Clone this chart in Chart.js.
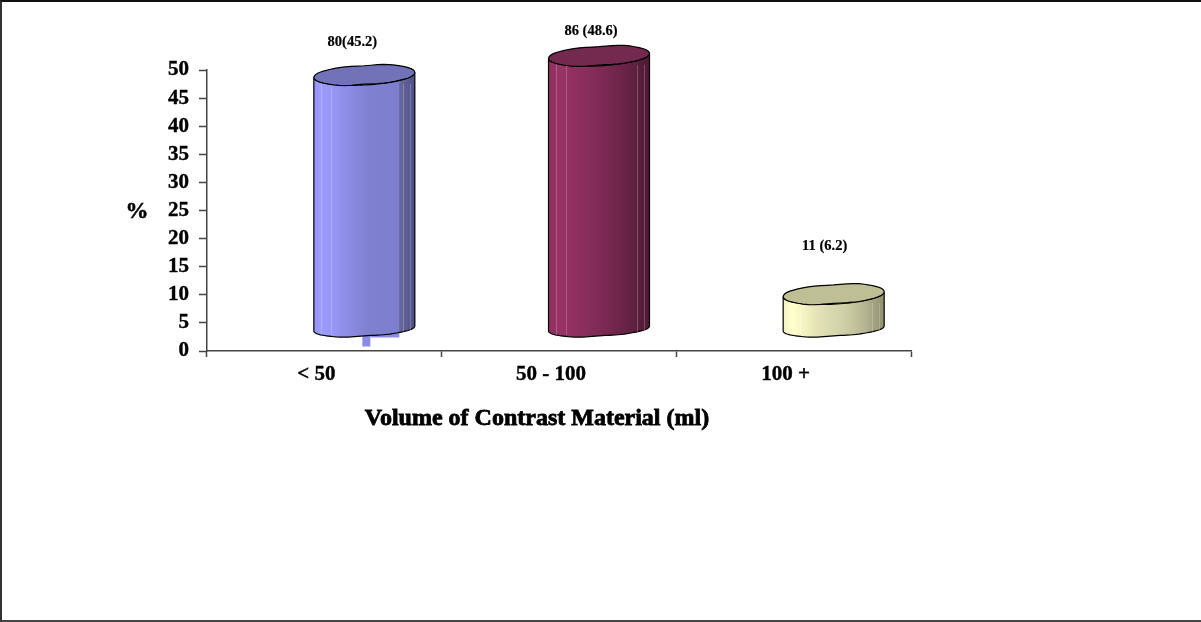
<!DOCTYPE html>
<html>
<head>
<meta charset="utf-8">
<title>Volume of Contrast Material</title>
<script src="https://cdn.jsdelivr.net/npm/chart.js@4/dist/chart.umd.js"></script>
<style>
  html, body { margin: 0; padding: 0; background: #fff; overflow: hidden; }
  #frame { position: relative; width: 1201px; height: 622px; box-sizing: border-box; border-top: 2px solid #111; border-left: 2px solid #333; border-bottom: 2px solid #444; }
  #frame canvas { position: absolute; left: -2px; top: -2px; }
</style>
</head>
<body>
<div id="frame"><canvas id="chart" width="1201" height="622"></canvas></div>
<script>
const categories = ['< 50', '50 - 100', '100 +'];
const percentages = [45.2, 48.6, 6.2];
const valueLabels = ['80(45.2)', '86 (48.6)', '11 (6.2)'];
const yTicks = [0, 5, 10, 15, 20, 25, 30, 35, 40, 45, 50];
const xTitle = 'Volume of Contrast Material (ml)';

const serif = '"Liberation Serif", serif';

// Body colour stops (position, colour) and lid colour for each cylinder
const cylinderStyles = [
    {
        stops: [[0, '#9494f4'], [0.07, '#9c9cff'], [0.2, '#9696f6'], [0.4, '#8888de'], [0.55, '#8080d0'], [0.84, '#7e7ece'], [0.85, '#68689f'], [1, '#505088']],
        lid: '#7272b8'
    },
    {
        stops: [[0, '#8e2f60'], [0.1, '#993366'], [0.35, '#8a2e5c'], [0.6, '#772850'], [0.85, '#602040'], [1, '#4c1a34']],
        lid: '#74294f'
    },
    {
        stops: [[0, '#f4f4c4'], [0.1, '#ffffcc'], [0.35, '#e2e2b6'], [0.6, '#d0d0a8'], [0.8, '#b6b692'], [1, '#90906f']],
        lid: '#bfbf96'
    }
];
// Fake 3D depth: the cylinders sit back and to the right of their category
const depthX = 40;
const depthY = -22;
const lidRadiusY = 10;
const baseRadiusY = 8;
const tilt = -0.05;
// Text placement above each cylinder, relative to the bar top
const labelShift = [[28, -55], [32, -47], [31, -70]];

// Hand-drawn looking ellipse: a rotated ellipse with a slight ripple
function rimPoint(cx, cy, rx, ry, a, ripple) {
    const wobble = Math.abs(Math.sin(a)) * (ripple * Math.sin(3 * a + 0.6) + ripple * 0.5 * Math.sin(7 * a));
    const x = rx * Math.cos(a);
    const y = ry * Math.sin(a) + wobble;
    return [cx + x, cy + y + x * Math.sin(tilt)];
}

function traceRim(ctx, cx, cy, rx, ry, from, to, ripple) {
    const steps = 48;
    for (let s = 0; s <= steps; s++) {
        const p = rimPoint(cx, cy, rx, ry, from + (to - from) * s / steps, ripple);
        ctx.lineTo(p[0], p[1]);
    }
}

function drawCylinder(ctx, bar, style) {
    const half = bar.width / 2;
    const cx = bar.x + depthX;
    const top = bar.y + depthY;
    const bottom = bar.base + depthY;
    const left = cx - half;
    const right = cx + half;

    const body = ctx.createLinearGradient(left, 0, right, 0);
    style.stops.forEach(s => body.addColorStop(s[0], s[1]));

    ctx.save();
    ctx.lineWidth = 1.2;
    ctx.strokeStyle = '#000';
    ctx.beginPath();
    traceRim(ctx, cx, top, half, lidRadiusY, Math.PI, 0, 0);
    traceRim(ctx, cx, bottom, half, baseRadiusY, 0, Math.PI, 0.5);
    ctx.closePath();
    ctx.fillStyle = body;
    ctx.fill();
    ctx.stroke();

    // Pale facet lines on the side
    ctx.lineWidth = 1;
    ctx.strokeStyle = 'rgba(255,255,255,0.22)';
    [0.07, 0.17, 0.88, 0.95].forEach(f => {
        const x = Math.round(left + f * bar.width) + 0.5;
        ctx.beginPath();
        ctx.moveTo(x, top + 9);
        ctx.lineTo(x, bottom + 6);
        ctx.stroke();
    });

    ctx.lineWidth = 1.2;
    ctx.strokeStyle = '#000';
    ctx.beginPath();
    traceRim(ctx, cx, top, half, lidRadiusY, 0, Math.PI * 2, 0.6);
    ctx.closePath();
    ctx.fillStyle = style.lid;
    ctx.fill();
    ctx.stroke();
    ctx.restore();
}

function boldText(ctx, text, x, y, font, weight) {
    ctx.font = font;
    ctx.lineWidth = weight;
    ctx.strokeStyle = '#000';
    ctx.fillStyle = '#000';
    ctx.strokeText(text, x, y);
    ctx.fillText(text, x, y);
}

const cylinders = {
    id: 'cylinders',
    afterDatasetsDraw(chart) {
        const ctx = chart.ctx;
        const bars = chart.getDatasetMeta(0).data;

        // Small rendering remnant under the first cylinder
        const first = bars[0];
        ctx.fillStyle = '#8c8ce8';
        ctx.fillRect(first.x + 38, first.base - 18, 8, 14);
        ctx.fillRect(first.x + 46, first.base - 18, 29, 5);

        bars.forEach((bar, i) => drawCylinder(ctx, bar, cylinderStyles[i]));

        ctx.textAlign = 'center';
        ctx.textBaseline = 'middle';
        bars.forEach((bar, i) => {
            boldText(ctx, valueLabels[i], bar.x + labelShift[i][0], bar.y + labelShift[i][1], 'bold 14.5px ' + serif, 0.2);
        });

        // Axis captions, set off-centre from the plot
        const area = chart.chartArea;
        boldText(ctx, '%', area.left - 70, 212, 'bold 23px ' + serif, 0.5);
        boldText(ctx, xTitle, area.left + 330, area.bottom + 68, 'bold 24px ' + serif, 0.8);
    }
};

new Chart(document.getElementById('chart'), {
    type: 'bar',
    data: {
        labels: categories,
        datasets: [{
            data: percentages,
            backgroundColor: 'rgba(0,0,0,0)',
            barThickness: 101
        }]
    },
    options: {
        responsive: false,
        animation: false,
        layout: { padding: { left: 0, top: 70, right: 290, bottom: 0 } },
        plugins: { legend: { display: false }, tooltip: { enabled: false } },
        scales: {
            x: {
                offset: true,
                afterFit(axis) { axis.height = 271; },
                grid: { drawOnChartArea: false, color: '#444', tickLength: 6, tickColor: '#444', tickWidth: 1.5 },
                border: { color: '#444', width: 1.5 },
                ticks: {
                    color: '#000',
                    font: { family: serif, size: 21, weight: 'bold' },
                    padding: 5,
                    labelOffset: -8,
                    textStrokeColor: '#000',
                    textStrokeWidth: 0.4
                }
            },
            y: {
                min: 0,
                max: 50,
                afterBuildTicks(axis) { axis.ticks = yTicks.map(value => ({ value })); },
                afterFit(axis) { axis.width = 207; },
                grid: { drawOnChartArea: false, color: '#444', tickLength: 8, tickColor: '#444', tickWidth: 1.5 },
                border: { color: '#444', width: 1.5 },
                ticks: {
                    color: '#000',
                    font: { family: serif, size: 21, weight: 'bold' },
                    padding: 10,
                    autoSkip: false,
                    textStrokeColor: '#000',
                    textStrokeWidth: 0.4
                }
            }
        }
    },
    plugins: [cylinders]
});
</script>
</body>
</html>
